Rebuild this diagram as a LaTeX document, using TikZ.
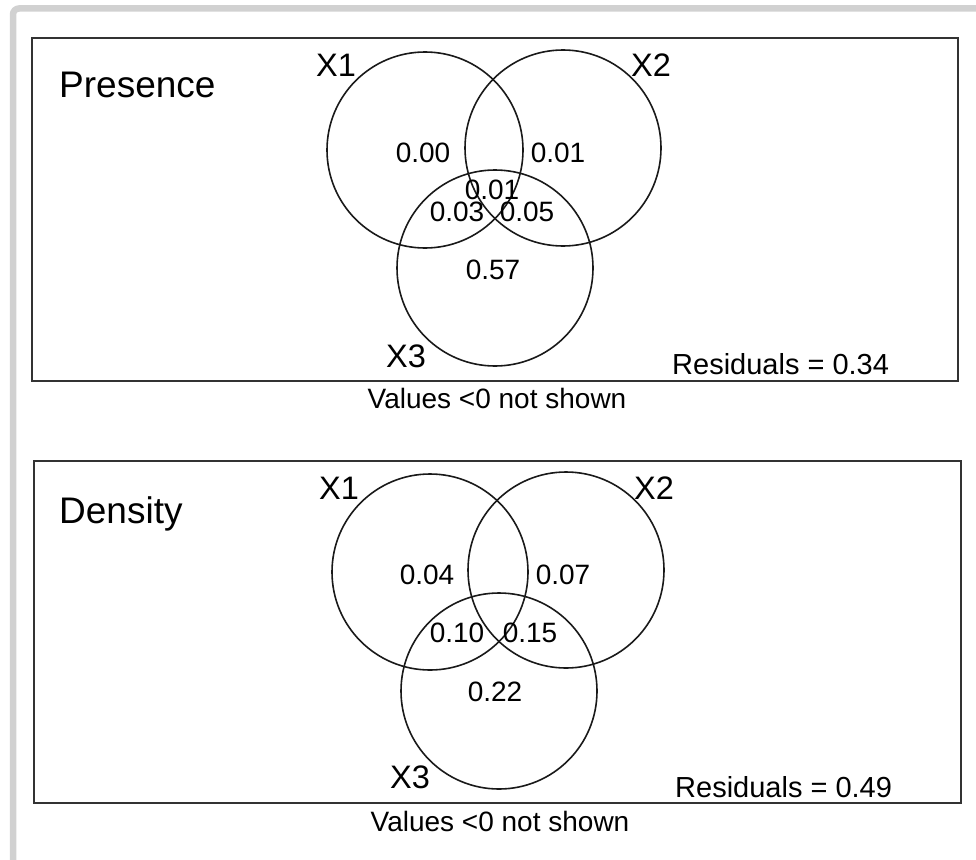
\documentclass[tikz,border=0pt]{standalone}
\usepackage{fontspec}
\setmainfont{Liberation Sans}
\begin{document}
\begin{tikzpicture}[x=1pt,y=-1pt,
  panel/.style={draw=black!80,line width=2pt},
  set/.style={circle,draw=black!90,line width=1.6pt,minimum size=196pt,inner sep=0pt},
  setlabel/.style={font=\fontsize{32.5}{32.5}\selectfont,inner sep=0pt},
  val/.style={font=\fontsize{28}{28}\selectfont,inner sep=0pt},
  title/.style={font=\fontsize{37}{37}\selectfont,inner sep=0pt,anchor=base west},
  note/.style={font=\fontsize{28}{28}\selectfont,inner sep=0pt,anchor=base},
  resid/.style={font=\fontsize{29}{29}\selectfont,inner sep=0pt,anchor=base west}]
\useasboundingbox (0,0) rectangle (976,859);
% outer window frame
\draw[black!18,line width=6.5pt,rounded corners=6pt] (13,870) -- (13,8.5) -- (990,8.5);

% ---- Presence ----
\node[panel,minimum width=926pt,minimum height=343pt,anchor=north west,inner sep=0pt] (p1) at (31,37) {};
\node[title] (t1) at (59,97) {Presence};
\node[set] (a1) at (425,150) {};
\node[set] (a2) at (563,148) {};
\node[set] (a3) at (495,268) {};
\node[setlabel] (la1) at (336,65) {X1};
\node[setlabel] (la2) at (651,65) {X2};
\node[setlabel] (la3) at (406,356) {X3};
\node[val] (v100) at (423,153) {0.00};
\node[val] (v010) at (558,153) {0.01};
\node[val] (v111) at (492,190) {0.01};
\node[val] (v101) at (457,212) {0.03};
\node[val] (v011) at (527,212) {0.05};
\node[val] (v001) at (493,270) {0.57};
\node[resid] (r1) at (672,374) {Residuals = 0.34};
\node[note] (n1) at (497,408) {Values <0 not shown};

% ---- Density ----
\node[panel,minimum width=927pt,minimum height=342pt,anchor=north west,inner sep=0pt] (p2) at (33,460) {};
\node[title] (t2) at (59,523) {Density};
\node[set] (b1) at (430,572) {};
\node[set] (b2) at (566,570) {};
\node[set] (b3) at (499,691) {};
\node[setlabel] (lb1) at (339,488) {X1};
\node[setlabel] (lb2) at (654,488) {X2};
\node[setlabel] (lb3) at (410,777) {X3};
\node[val] (w100) at (427,575) {0.04};
\node[val] (w010) at (563,575) {0.07};
\node[val] (w101) at (457,633) {0.10};
\node[val] (w011) at (530,633) {0.15};
\node[val] (w001) at (495,692) {0.22};
\node[resid] (r2) at (675,797) {Residuals = 0.49};
\node[note] (n2) at (500,831) {Values <0 not shown};
\end{tikzpicture}
\end{document}
